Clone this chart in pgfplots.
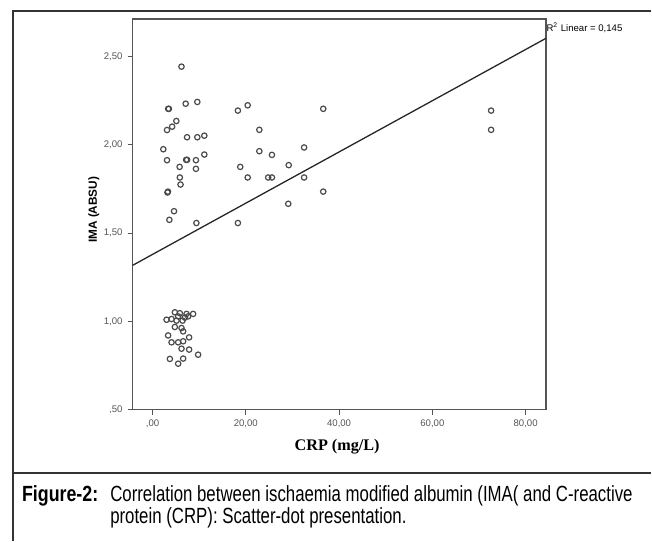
\documentclass[border=0pt]{standalone}
\usepackage{pgfplots}
\pgfplotsset{compat=1.18}
\usepackage{fontspec}
\setmainfont{Liberation Sans}
\newfontfamily\serifbf{Liberation Serif}
\newfontfamily\capfont[FakeStretch=0.765]{Liberation Sans}
\newfontfamily\capbf[FakeStretch=0.81]{Liberation Sans}
\definecolor{frame}{HTML}{333333}
\definecolor{axgray}{HTML}{555555}
\definecolor{dotgray}{HTML}{4A4A4A}

% IMA vs CRP
\pgfplotstableread{
crp ima
6.2 2.443
3.35 2.204
3.5 2.204
7.1 2.233
9.6 2.243
5.1 2.135
4.2 2.103
3.1 2.084
7.4 2.043
9.6 2.043
11.1 2.052
2.3 1.975
3.1 1.913
7.2 1.915
7.4 1.915
9.3 1.913
11.1 1.945
5.8 1.875
9.3 1.864
5.85 1.815
6.0 1.775
3.2 1.730
3.3 1.735
4.6 1.624
3.6 1.575
9.4 1.557
18.3 2.194
20.4 2.224
22.9 2.085
18.8 1.875
22.9 1.964
25.6 1.943
20.4 1.815
24.8 1.815
25.6 1.815
29.2 1.885
32.5 1.985
32.5 1.815
29.1 1.666
18.3 1.557
36.6 2.204
36.6 1.735
72.6 2.194
72.6 2.085
4.78 1.051
7.29 1.042
8.70 1.042
3.0 1.009
4.07 1.013
5.49 1.028
6.43 1.004
5.14 1.004
7.63 1.028
6.92 1.021
5.85 1.046
4.78 0.968
6.21 0.962
6.56 0.943
3.34 0.920
7.84 0.909
4.07 0.881
5.49 0.881
6.56 0.887
6.21 0.845
7.84 0.840
9.77 0.811
3.71 0.787
6.56 0.789
5.49 0.760
}\imadata

\begin{document}
\begin{tikzpicture}[x=0.5pt,y=-0.5pt]
\path (0,0) rectangle (652,542);
\draw[frame,line width=0.7pt] (652,11) -- (13,11) -- (13,542);
\draw[frame,line width=0.7pt] (13,473.3) -- (652,473.3);

\begin{axis}[
  at={(66.35pt,-205pt)}, anchor=south west,
  scale only axis, width=207pt, height=195.5pt,
  xmin=-4.29, xmax=84.4, ymin=0.5, ymax=2.713,
  axis line style={axgray,line width=0.7pt},
  tick align=outside, tick pos=left,
  major tick length=2.5pt,
  tick style={axgray,line width=0.55pt},
  xtick={0,20,40,60,80},
  xticklabels={{,00},{20,00},{40,00},{60,00},{80,00}},
  ytick={0.5,1,1.5,2,2.5},
  yticklabels={{,50},{1,00},{1,50},{2,00},{2,50}},
  ticklabel style={font=\fontsize{4.8}{5}\selectfont, text=axgray},
  xticklabel style={yshift=1pt},
  yticklabel style={xshift=1pt},
  /pgf/number format/assume math mode=true,
  clip=false,
]
\addplot[only marks, mark=o, mark size=1.35pt, dotgray, line width=0.6pt]
  table[x=crp, y=ima] {\imadata};
\addplot[black!85, line width=0.65pt] coordinates {(-4.29,1.317) (84.4,2.604)};
\end{axis}

\node[anchor=west, inner sep=0, font=\fontsize{4.8}{5}\selectfont] at (546.7,27.7)
  {R\textsuperscript{2} Linear = 0,145};
\node[rotate=90, inner sep=0, font=\fontsize{5.9}{6}\selectfont\bfseries] at (94,210)
  {IMA (ABSU)};
\node[inner sep=0, font=\serifbf\fontsize{8.1}{9}\selectfont\bfseries] at (337.5,447)
  {CRP (mg/L)};

\node[anchor=base west, inner sep=0, font=\capbf\fontsize{11}{12}\selectfont\bfseries] at (21.7,501.7)
  {Figure-2:};
\node[anchor=base west, inner sep=0, font=\capfont\fontsize{11}{12}\selectfont] at (110,501.7)
  {Correlation between ischaemia modified albumin (IMA( and C-reactive};
\node[anchor=base west, inner sep=0, font=\capfont\fontsize{11}{12}\selectfont] at (110,524)
  {protein (CRP): Scatter-dot presentation.};
\end{tikzpicture}
\end{document}
